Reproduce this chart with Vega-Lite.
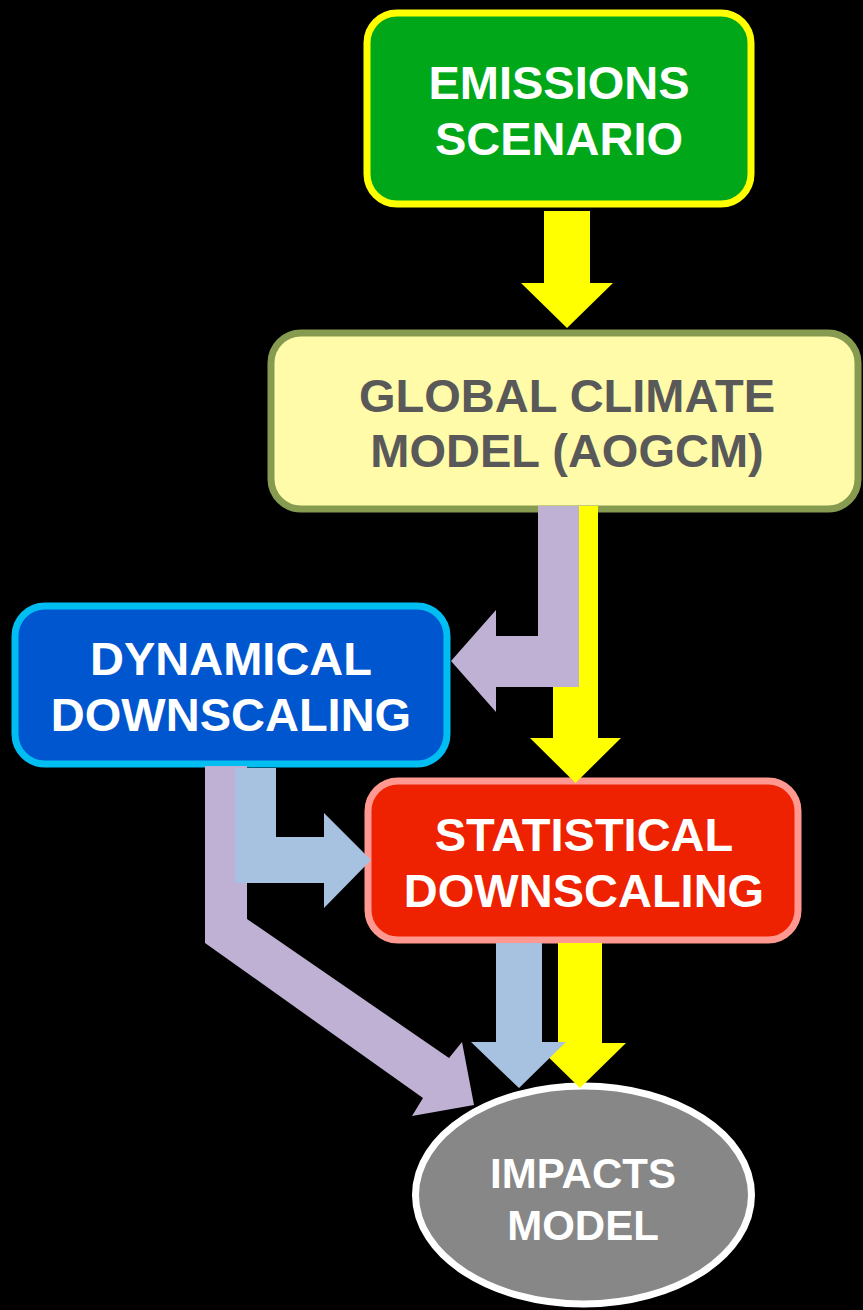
{
  "$schema": "https://vega.github.io/schema/vega-lite/v6.json",
  "width": 863,
  "height": 1310,
  "autosize": {"type": "none"},
  "padding": 0,
  "background": "#000000",
  "config": {"view": {"stroke": null}},
  "datasets": {
    "nodes": [
      {"node": "emissions", "x0": 367, "x1": 751, "y0": 13, "y1": 204},
      {"node": "gcm", "x0": 271, "x1": 858, "y0": 333, "y1": 509},
      {"node": "dynamical", "x0": 15, "x1": 447, "y0": 606, "y1": 764},
      {"node": "statistical", "x0": 368, "x1": 798, "y0": 781, "y1": 940}
    ],
    "ellipse": [
      {"node": "impacts", "cx": 583.5, "cy": 1195}
    ],
    "arrows": [
      {"arrow": "emissions-gcm", "route": "via statistical", "i": 0, "x": 544, "y": 211},
      {"arrow": "emissions-gcm", "route": "via statistical", "i": 1, "x": 590, "y": 211},
      {"arrow": "emissions-gcm", "route": "via statistical", "i": 2, "x": 590, "y": 283},
      {"arrow": "emissions-gcm", "route": "via statistical", "i": 3, "x": 613, "y": 283},
      {"arrow": "emissions-gcm", "route": "via statistical", "i": 4, "x": 567, "y": 328},
      {"arrow": "emissions-gcm", "route": "via statistical", "i": 5, "x": 521, "y": 283},
      {"arrow": "emissions-gcm", "route": "via statistical", "i": 6, "x": 544, "y": 283},

      {"arrow": "gcm-statistical", "route": "via statistical", "i": 0, "x": 553, "y": 506},
      {"arrow": "gcm-statistical", "route": "via statistical", "i": 1, "x": 598, "y": 506},
      {"arrow": "gcm-statistical", "route": "via statistical", "i": 2, "x": 598, "y": 738},
      {"arrow": "gcm-statistical", "route": "via statistical", "i": 3, "x": 621, "y": 738},
      {"arrow": "gcm-statistical", "route": "via statistical", "i": 4, "x": 575.5, "y": 783},
      {"arrow": "gcm-statistical", "route": "via statistical", "i": 5, "x": 530, "y": 738},
      {"arrow": "gcm-statistical", "route": "via statistical", "i": 6, "x": 553, "y": 738},

      {"arrow": "statistical-impacts-y", "route": "via statistical", "i": 0, "x": 558, "y": 943},
      {"arrow": "statistical-impacts-y", "route": "via statistical", "i": 1, "x": 602, "y": 943},
      {"arrow": "statistical-impacts-y", "route": "via statistical", "i": 2, "x": 602, "y": 1043},
      {"arrow": "statistical-impacts-y", "route": "via statistical", "i": 3, "x": 626, "y": 1043},
      {"arrow": "statistical-impacts-y", "route": "via statistical", "i": 4, "x": 580, "y": 1088},
      {"arrow": "statistical-impacts-y", "route": "via statistical", "i": 5, "x": 534, "y": 1043},
      {"arrow": "statistical-impacts-y", "route": "via statistical", "i": 6, "x": 558, "y": 1043},

      {"arrow": "gcm-dynamical", "route": "via dynamical", "i": 0, "x": 538, "y": 506},
      {"arrow": "gcm-dynamical", "route": "via dynamical", "i": 1, "x": 579, "y": 506},
      {"arrow": "gcm-dynamical", "route": "via dynamical", "i": 2, "x": 579, "y": 687},
      {"arrow": "gcm-dynamical", "route": "via dynamical", "i": 3, "x": 496, "y": 687},
      {"arrow": "gcm-dynamical", "route": "via dynamical", "i": 4, "x": 496, "y": 712},
      {"arrow": "gcm-dynamical", "route": "via dynamical", "i": 5, "x": 451, "y": 661},
      {"arrow": "gcm-dynamical", "route": "via dynamical", "i": 6, "x": 496, "y": 610},
      {"arrow": "gcm-dynamical", "route": "via dynamical", "i": 7, "x": 496, "y": 636},
      {"arrow": "gcm-dynamical", "route": "via dynamical", "i": 8, "x": 538, "y": 636},

      {"arrow": "dynamical-impacts", "route": "via dynamical", "i": 0, "x": 205, "y": 766},
      {"arrow": "dynamical-impacts", "route": "via dynamical", "i": 1, "x": 247, "y": 766},
      {"arrow": "dynamical-impacts", "route": "via dynamical", "i": 2, "x": 247, "y": 919},
      {"arrow": "dynamical-impacts", "route": "via dynamical", "i": 3, "x": 449, "y": 1058},
      {"arrow": "dynamical-impacts", "route": "via dynamical", "i": 4, "x": 462, "y": 1042},
      {"arrow": "dynamical-impacts", "route": "via dynamical", "i": 5, "x": 474, "y": 1105},
      {"arrow": "dynamical-impacts", "route": "via dynamical", "i": 6, "x": 412, "y": 1116},
      {"arrow": "dynamical-impacts", "route": "via dynamical", "i": 7, "x": 423, "y": 1098},
      {"arrow": "dynamical-impacts", "route": "via dynamical", "i": 8, "x": 205, "y": 943},

      {"arrow": "dynamical-statistical", "route": "dynamical then statistical", "i": 0, "x": 235, "y": 768},
      {"arrow": "dynamical-statistical", "route": "dynamical then statistical", "i": 1, "x": 276, "y": 768},
      {"arrow": "dynamical-statistical", "route": "dynamical then statistical", "i": 2, "x": 276, "y": 837},
      {"arrow": "dynamical-statistical", "route": "dynamical then statistical", "i": 3, "x": 324, "y": 837},
      {"arrow": "dynamical-statistical", "route": "dynamical then statistical", "i": 4, "x": 324, "y": 813},
      {"arrow": "dynamical-statistical", "route": "dynamical then statistical", "i": 5, "x": 371, "y": 860},
      {"arrow": "dynamical-statistical", "route": "dynamical then statistical", "i": 6, "x": 324, "y": 908},
      {"arrow": "dynamical-statistical", "route": "dynamical then statistical", "i": 7, "x": 324, "y": 883},
      {"arrow": "dynamical-statistical", "route": "dynamical then statistical", "i": 8, "x": 235, "y": 883},

      {"arrow": "statistical-impacts-b", "route": "dynamical then statistical", "i": 0, "x": 496, "y": 943},
      {"arrow": "statistical-impacts-b", "route": "dynamical then statistical", "i": 1, "x": 542, "y": 943},
      {"arrow": "statistical-impacts-b", "route": "dynamical then statistical", "i": 2, "x": 542, "y": 1042},
      {"arrow": "statistical-impacts-b", "route": "dynamical then statistical", "i": 3, "x": 566, "y": 1042},
      {"arrow": "statistical-impacts-b", "route": "dynamical then statistical", "i": 4, "x": 519, "y": 1088},
      {"arrow": "statistical-impacts-b", "route": "dynamical then statistical", "i": 5, "x": 471, "y": 1042},
      {"arrow": "statistical-impacts-b", "route": "dynamical then statistical", "i": 6, "x": 496, "y": 1042}
    ],
    "labels": [
      {"node": "emissions", "text": "EMISSIONS", "x": 559, "y": 99},
      {"node": "emissions", "text": "SCENARIO", "x": 559, "y": 155},
      {"node": "gcm", "text": "GLOBAL CLIMATE", "x": 567, "y": 412},
      {"node": "gcm", "text": "MODEL (AOGCM)", "x": 567, "y": 467},
      {"node": "dynamical", "text": "DYNAMICAL", "x": 231, "y": 675},
      {"node": "dynamical", "text": "DOWNSCALING", "x": 231, "y": 731},
      {"node": "statistical", "text": "STATISTICAL", "x": 584, "y": 851},
      {"node": "statistical", "text": "DOWNSCALING", "x": 584, "y": 907},
      {"node": "impacts", "text": "IMPACTS", "x": 583, "y": 1188},
      {"node": "impacts", "text": "MODEL", "x": 583, "y": 1240}
    ]
  },
  "resolve": {"scale": {"fill": "independent", "stroke": "independent", "color": "independent"}},
  "layer": [
    {
      "data": {"name": "nodes"},
      "mark": {"type": "rect", "cornerRadius": 30, "strokeWidth": 7},
      "encoding": {
        "x": {"field": "x0", "type": "quantitative", "scale": {"domain": [0, 863], "nice": false, "zero": false}, "axis": null},
        "x2": {"field": "x1"},
        "y": {"field": "y0", "type": "quantitative", "scale": {"domain": [0, 1310], "nice": false, "zero": false, "reverse": true}, "axis": null},
        "y2": {"field": "y1"},
        "fill": {"field": "node", "type": "nominal", "legend": null,
          "scale": {"domain": ["emissions", "gcm", "dynamical", "statistical", "impacts"], "range": ["#00A819", "#FFFBA8", "#0056CE", "#EE2200", "#878787"]}},
        "stroke": {"field": "node", "type": "nominal", "legend": null,
          "scale": {"domain": ["emissions", "gcm", "dynamical", "statistical", "impacts"], "range": ["#FFFF00", "#879B50", "#00BDF2", "#FF9890", "#FFFFFF"]}}
      }
    },
    {
      "data": {"name": "ellipse"},
      "mark": {"type": "point", "filled": true, "opacity": 1, "strokeWidth": 7, "size": 112896,
        "shape": "M -1 0 A 1 0.649 0 1 1 1 0 A 1 0.649 0 1 1 -1 0 Z"},
      "encoding": {
        "x": {"field": "cx", "type": "quantitative", "scale": {"domain": [0, 863], "nice": false, "zero": false}, "axis": null},
        "y": {"field": "cy", "type": "quantitative", "scale": {"domain": [0, 1310], "nice": false, "zero": false, "reverse": true}, "axis": null},
        "fill": {"field": "node", "type": "nominal", "legend": null,
          "scale": {"domain": ["emissions", "gcm", "dynamical", "statistical", "impacts"], "range": ["#00A819", "#FFFBA8", "#0056CE", "#EE2200", "#878787"]}},
        "stroke": {"field": "node", "type": "nominal", "legend": null,
          "scale": {"domain": ["emissions", "gcm", "dynamical", "statistical", "impacts"], "range": ["#FFFF00", "#879B50", "#00BDF2", "#FF9890", "#FFFFFF"]}}
      }
    },
    {
      "data": {"name": "arrows"},
      "transform": [{"filter": "datum.route === 'via statistical'"}],
      "mark": {"type": "line", "strokeWidth": 0, "interpolate": "linear"},
      "encoding": {
        "x": {"field": "x", "type": "quantitative", "scale": {"domain": [0, 863], "nice": false, "zero": false}, "axis": null},
        "y": {"field": "y", "type": "quantitative", "scale": {"domain": [0, 1310], "nice": false, "zero": false, "reverse": true}, "axis": null},
        "detail": {"field": "arrow", "type": "nominal"},
        "order": {"field": "i", "type": "quantitative"},
        "fill": {"field": "route", "type": "nominal", "legend": null,
          "scale": {"domain": ["via statistical", "via dynamical", "dynamical then statistical"], "range": ["#FFFF00", "#BFB1D3", "#A7C2E0"]}}
      }
    },
    {
      "data": {"name": "arrows"},
      "transform": [{"filter": "datum.route === 'via dynamical'"}],
      "mark": {"type": "line", "strokeWidth": 0, "interpolate": "linear"},
      "encoding": {
        "x": {"field": "x", "type": "quantitative", "scale": {"domain": [0, 863], "nice": false, "zero": false}, "axis": null},
        "y": {"field": "y", "type": "quantitative", "scale": {"domain": [0, 1310], "nice": false, "zero": false, "reverse": true}, "axis": null},
        "detail": {"field": "arrow", "type": "nominal"},
        "order": {"field": "i", "type": "quantitative"},
        "fill": {"field": "route", "type": "nominal", "legend": null,
          "scale": {"domain": ["via statistical", "via dynamical", "dynamical then statistical"], "range": ["#FFFF00", "#BFB1D3", "#A7C2E0"]}}
      }
    },
    {
      "data": {"name": "arrows"},
      "transform": [{"filter": "datum.route === 'dynamical then statistical'"}],
      "mark": {"type": "line", "strokeWidth": 0, "interpolate": "linear"},
      "encoding": {
        "x": {"field": "x", "type": "quantitative", "scale": {"domain": [0, 863], "nice": false, "zero": false}, "axis": null},
        "y": {"field": "y", "type": "quantitative", "scale": {"domain": [0, 1310], "nice": false, "zero": false, "reverse": true}, "axis": null},
        "detail": {"field": "arrow", "type": "nominal"},
        "order": {"field": "i", "type": "quantitative"},
        "fill": {"field": "route", "type": "nominal", "legend": null,
          "scale": {"domain": ["via statistical", "via dynamical", "dynamical then statistical"], "range": ["#FFFF00", "#BFB1D3", "#A7C2E0"]}}
      }
    },
    {
      "data": {"name": "labels"},
      "transform": [{"filter": "datum.node !== 'impacts'"}],
      "mark": {"type": "text", "font": "Liberation Sans", "fontWeight": "bold", "fontSize": 47, "align": "center", "baseline": "alphabetic"},
      "encoding": {
        "x": {"field": "x", "type": "quantitative", "scale": {"domain": [0, 863], "nice": false, "zero": false}, "axis": null},
        "y": {"field": "y", "type": "quantitative", "scale": {"domain": [0, 1310], "nice": false, "zero": false, "reverse": true}, "axis": null},
        "text": {"field": "text", "type": "nominal"},
        "color": {"field": "node", "type": "nominal", "legend": null,
          "scale": {"domain": ["emissions", "gcm", "dynamical", "statistical", "impacts"], "range": ["#FFFFFF", "#595959", "#FFFFFF", "#FFFFFF", "#FFFFFF"]}}
      }
    },
    {
      "data": {"name": "labels"},
      "transform": [{"filter": "datum.node === 'impacts'"}],
      "mark": {"type": "text", "font": "Liberation Sans", "fontWeight": "bold", "fontSize": 42, "align": "center", "baseline": "alphabetic", "color": "#FFFFFF"},
      "encoding": {
        "x": {"field": "x", "type": "quantitative", "scale": {"domain": [0, 863], "nice": false, "zero": false}, "axis": null},
        "y": {"field": "y", "type": "quantitative", "scale": {"domain": [0, 1310], "nice": false, "zero": false, "reverse": true}, "axis": null},
        "text": {"field": "text", "type": "nominal"}
      }
    }
  ]
}
